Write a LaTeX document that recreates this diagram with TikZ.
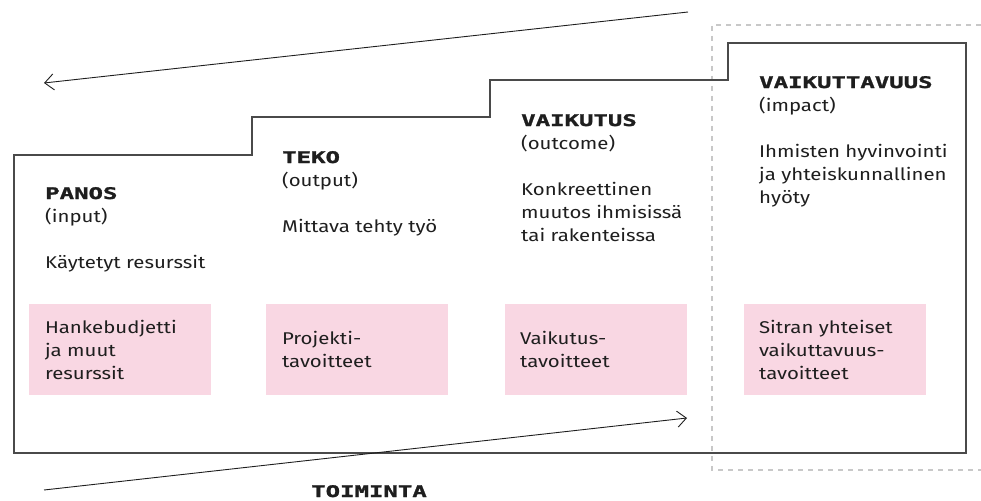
\documentclass[tikz,border=0pt]{standalone}
\usepackage{fontspec}
\setmainfont[FakeStretch=1.2]{Fira Sans}
\newfontfamily\headfont[FakeStretch=1.5,FakeBold=1.6]{DejaVu Sans Mono Bold}
\usetikzlibrary{arrows.meta}
\definecolor{inkc}{HTML}{1E1E1E}
\definecolor{linec}{HTML}{4A4A4A}
\definecolor{dashc}{HTML}{C8C8C8}
\definecolor{pinkc}{HTML}{F9D7E3}
\newcommand{\stagehead}[1]{{\headfont\fontsize{16}{23}\selectfont #1}}
\begin{document}
\begin{tikzpicture}[x=1pt,y=-1pt,
  outline/.style={draw=linec,line width=1.3pt},
  zone/.style={draw=dashc,line width=2pt,dash pattern=on 5pt off 5pt},
  flow/.style={draw=inkc,line width=0.9pt,-{Straight Barb[length=9pt,width=16pt,line width=0.9pt]}},
  goalbox/.style={fill=pinkc,minimum width=182pt,minimum height=91pt,inner sep=0pt},
  goaltext/.style={anchor=west,align=left,inner sep=0pt,text=inkc,font=\fontsize{17}{23}\selectfont},
  stage/.style={anchor=base west,align=left,inner sep=0pt,text=inkc,font=\fontsize{17}{23}\selectfont},
  hd/.style={font=\headfont\fontsize{16}{23}\selectfont}]
\useasboundingbox (0,0) rectangle (981,500);

% dashed frame around the impact stage
\draw[zone] (981,25) -- (712,25) -- (712,470) -- (981,470);

% stepped outline of the four stages
\draw[outline] (14,453) -- (14,155) -- (252,155) -- (252,117) -- (490,117)
  -- (490,80) -- (728,80) -- (728,43) -- (966,43) -- (966,453) -- cycle;

% long arrows
\coordinate (topR) at (688,12);
\coordinate (topL) at (44,83);
\coordinate (botL) at (44,490);
\coordinate (botR) at (687,418);
\draw[flow] (topR) -- (topL);
\draw[flow] (botL) -- (botR);

% stage descriptions (anchored at the baseline of their last line)
\node[stage] (panos) at (45,268) {\stagehead{PANOS}\\(input)\\[23pt]Käytetyt resurssit};
\node[stage] (teko) at (282,232) {\stagehead{TEKO}\\(output)\\[23pt]Mittava tehty työ};
\node[stage] (vaikutus) at (521,241) {\stagehead{VAIKUTUS}\\(outcome)\\[23pt]Konkreettinen\\muutos ihmisissä\\tai rakenteissa};
\node[stage] (vaikuttavuus) at (759,203) {\stagehead{VAIKUTTAVUUS}\\(impact)\\[23pt]Ihmisten hyvinvointi\\ja yhteiskunnallinen\\hyöty};

% goal boxes
\node[goalbox] (g1) at (120,349.5) {};
\node[goalbox] (g2) at (357,349.5) {};
\node[goalbox] (g3) at (596,349.5) {};
\node[goalbox] (g4) at (835,349.5) {};
\node[goaltext] (t1) at ([xshift=16pt]g1.west) {Hankebudjetti\\ja muut\\resurssit};
\node[goaltext] (t2) at ([xshift=16pt]g2.west) {Projekti-\\tavoitteet};
\node[goaltext] (t3) at ([xshift=15pt]g3.west) {Vaikutus-\\tavoitteet};
\node[goaltext] (t4) at ([xshift=15pt]g4.west) {Sitran yhteiset\\vaikuttavuus-\\tavoitteet};

% caption under the activity arrow
\node[anchor=base west,inner sep=0pt,text=inkc,hd] (toim) at (311,497) {TOIMINTA};
\end{tikzpicture}
\end{document}
